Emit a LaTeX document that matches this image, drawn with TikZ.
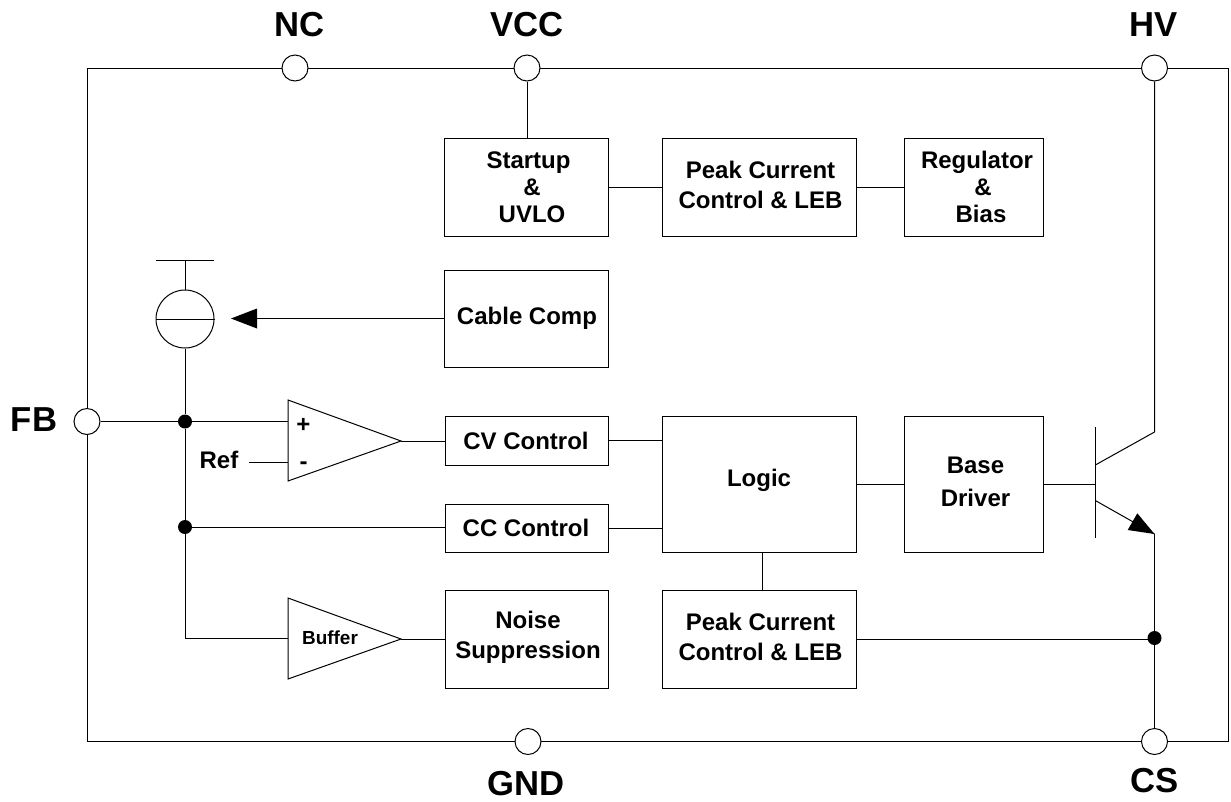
\documentclass[tikz,border=0pt]{standalone}
\usepackage{fontspec}
\setmainfont{Liberation Sans}
\usetikzlibrary{calc}
\newlength{\pxu}\setlength{\pxu}{0.75pt}
\tikzset{
 blk/.style={draw,line width=0.75pt,fill=white,inner sep=0pt},
 blktext/.style={align=center,font=\fontsize{18}{#1}\selectfont\bfseries,inner sep=0pt},
 blktext/.default=22.5,
 pin/.style={draw,circle,line width=0.75pt,fill=white,minimum size=26\pxu,inner sep=0pt},
 biglab/.style={font=\fontsize{26}{30}\selectfont\bfseries,inner sep=0pt},
 smalllab/.style={font=\fontsize{18}{21}\selectfont\bfseries,inner sep=0pt},
 dotj/.style={circle,fill=black,minimum size=14\pxu,inner sep=0pt},
 wire/.style={line width=0.75pt}
}
\begin{document}
\begin{tikzpicture}[x=0.75pt,y=-0.75pt]
\useasboundingbox (0,0) rectangle (1231,801);
% frame
\coordinate (tl) at (87,68);\coordinate (tr) at (1228.5,68);
\coordinate (bl) at (87,741.5);\coordinate (br) at (1228.5,741.5);
\draw[wire] (tl) -- (tr) -- (br) -- (bl) -- cycle;
% blocks
\node[blk,minimum width=164\pxu,minimum height=98\pxu] (startup) at (526,187) {};
\node[blk,minimum width=194\pxu,minimum height=98\pxu] (peaka) at (759,187) {};
\node[blk,minimum width=139\pxu,minimum height=98\pxu] (reg) at (973.5,187) {};
\node[blk,minimum width=164\pxu,minimum height=97\pxu] (cable) at (526,318.5) {};
\node[blk,minimum width=163\pxu,minimum height=49\pxu] (cv) at (526.5,440.5) {};
\node[blk,minimum width=163\pxu,minimum height=48\pxu] (cc) at (526.5,528) {};
\node[blk,minimum width=194\pxu,minimum height=136\pxu] (logic) at (759,484) {};
\node[blk,minimum width=139\pxu,minimum height=136\pxu] (base) at (973.5,484) {};
\node[blk,minimum width=163\pxu,minimum height=98\pxu] (noise) at (526.5,639.5) {};
\node[blk,minimum width=194\pxu,minimum height=98\pxu] (peakb) at (759,639.5) {};
% block texts
\node[blktext=20.25] (tstartup) at (528.5,187) {Startup\\\hspace*{5.25pt}\&\\\hspace*{5.25pt}UVLO};
\node[blktext] (tpeaka) at (760.5,184.5) {Peak Current\\Control \& LEB};
\node[blktext=20.25] (treg) at (977,186.5) {Regulator\\\hspace*{9pt}\&\\\hspace*{6pt}Bias};
\node[blktext] (tcable) at (527,318) {Cable Comp};
\node[blktext] (tcv) at (526,441) {CV Control};
\node[blktext] (tcc) at (526,528) {CC Control};
\node[blktext] (tlogic) at (759,480) {Logic};
\node[blktext=24.75] (tbase) at (975.5,482) {Base\\Driver};
\node[blktext] (tnoise) at (528,637) {Noise\\Suppression};
\node[blktext] (tpeakb) at (760.5,637) {Peak Current\\Control \& LEB};
% pins
\node[pin] (nc) at (295,68) {};
\node[pin] (vcc) at (527,68) {};
\node[pin] (hv) at (1154.5,68) {};
\node[pin] (fb) at (87,421.5) {};
\node[pin] (gnd) at (528,741.5) {};
\node[pin] (cs) at (1154.5,741.5) {};
\node[biglab] (lnc) at (299.5,25) {NC};
\node[biglab] (lvcc) at (527,25) {VCC};
\node[biglab] (lhv) at (1154,25) {HV};
\node[biglab] (lfb) at (34,420) {FB};
\node[biglab] (lgnd) at (526,784) {GND};
\node[biglab] (lcs) at (1155,780.5) {CS};
% current source
\node[draw,circle,line width=0.75pt,minimum size=58\pxu,inner sep=0pt] (src) at (185,319) {};
\draw[wire] (src.west) -- (src.east);
\coordinate (railc) at (185,260);
\coordinate (raill) at (156,260);
\coordinate (railr) at (214,260);
\draw[wire] (raill) -- (railr);
\draw[wire] (railc) -- (src.north);
\coordinate (tip) at (231,318.5);
\coordinate (tipb) at (257,318.5);
\draw[wire] (cable.west) -- (tipb);
\fill (tip) -- (257,308.5) -- (257,328.5) -- cycle;
% amps
\coordinate (a1) at (288,400);\coordinate (a2) at (288,481);\coordinate (a3) at (401,441);
\draw[wire] (a1) -- (a3) -- (a2) -- cycle;
\coordinate (b1) at (288,598);\coordinate (b2) at (288,679);\coordinate (b3) at (401,639);
\draw[wire] (b1) -- (b3) -- (b2) -- cycle;
\node[smalllab] (plus) at (303.5,425) {+};
\node[smalllab] (minus) at (303.5,466) {-};
\node[font=\fontsize{14.2}{16}\selectfont\bfseries,inner sep=0pt] (buf) at (330,638) {Buffer};
\node[smalllab] (ref) at (219,460) {Ref};
\coordinate (refend) at (249,462);
\coordinate (refin) at (288,462);
\draw[wire] (refend) -- (refin);
% junctions
\node[dotj] (j1) at (185,421.5) {};
\node[dotj] (j2) at (185,527) {};
\node[dotj] (j3) at (1154.5,638) {};
\coordinate (j4) at (185,638);
% wires
\draw[wire] (fb.east) -- (j1) -- (j1 -| a1);
\draw[wire] (src.south) -- (j1) -- (j2) -- (j4) -- (j4 -| a1);
\draw[wire] (j2) -- (j2 -| cc.west);
\draw[wire] (a3) -- (a3 -| cv.west);
\draw[wire] (b3) -- (b3 -| noise.west);
\draw[wire] (vcc.south) -- (startup.north -| vcc.south);
\draw[wire] (startup.east) -- (peaka.west);
\draw[wire] (peaka.east) -- (reg.west);
\draw[wire] (cv.east) -- (cv.east -| logic.west);
\draw[wire] (cc.east) -- (cc.east -| logic.west);
\draw[wire] (logic.east) -- (base.west);
\coordinate (lt) at (762,0);
\draw[wire] (logic.south -| lt) -- (peakb.north -| lt);
\draw[wire] (peakb.east) -- (peakb.east -| j3);
% transistor
\coordinate (bt) at (1095.3,427);\coordinate (bb) at (1095.3,538);
\coordinate (bm) at (1095.3,484);
\coordinate (c1) at (1095.3,465);\coordinate (c2) at (1154.5,432);
\coordinate (e1) at (1095.3,500.5);\coordinate (e2) at (1154.5,534);
\draw[line width=0.9pt] (bt) -- (bb);
\draw[wire] (base.east |- bm) -- (bm);
\draw[wire] (hv.south) -- (c2) -- (c1);
\draw[wire] (e1) -- (e2);
\fill (e2) -- (1137.3,513.3) -- (1127.7,530) -- cycle;
\draw[wire] (e2) -- (j3) -- (cs.north);
\end{tikzpicture}
\end{document}
